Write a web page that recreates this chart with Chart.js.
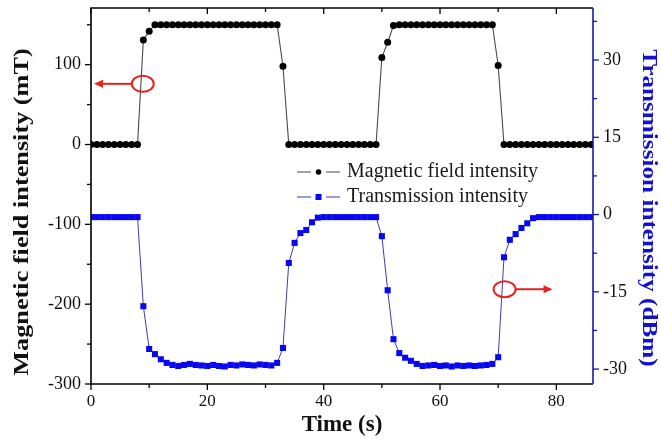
<!DOCTYPE html>
<html><head><meta charset="utf-8">
<script src="https://cdn.jsdelivr.net/npm/chart.js@4/dist/chart.umd.min.js"></script>
<style>html,body{margin:0;padding:0;background:#fff}#wrap{width:661px;height:440px}</style>
</head><body><div id="wrap"><canvas id="c" width="661" height="440"></canvas></div>
<script>
// ---- data ----
const timeS = [0,1,2,3,4,5,6,7,8,9,10,11,12,13,14,15,16,17,18,19,20,21,22,23,24,25,26,27,28,29,30,31,32,33,34,35,36,37,38,39,40,41,42,43,44,45,46,47,48,49,50,51,52,53,54,55,56,57,58,59,60,61,62,63,64,65,66,67,68,69,70,71,72,73,74,75,76,77,78,79,80,81,82,83,84,85,86];
const magneticField = [0,0,0,0,0,0,0,0,0,131,142,
  150,150,150,150,150,150,150,150,150,150,150,150,150,150,150,150,150,150,150,150,150,150,
  98,
  0,0,0,0,0,0,0,0,0,0,0,0,0,0,0,0,
  109,128,
  149,150,150,150,150,150,150,150,150,150,150,150,150,150,150,150,150,150,
  99,
  0,0,0,0,0,0,0,0,0,0,0,0,0,0,0,0];
const transmission = [-0.5,-0.5,-0.5,-0.5,-0.5,-0.5,-0.5,-0.5,-0.5,
  -17.8,-26.1,-27.1,-28.1,-28.8,-29.2,-29.4,
  -29.2,-29.0,-29.2,-29.3,-29.4,-29.2,-29.4,-29.5,-29.2,-29.3,-29.1,-29.2,-29.3,-29.1,-29.2,-29.3,
  -28.8,-25.9,-9.4,-5.5,-3.6,-3.0,-1.5,-0.6,
  -0.5,-0.5,-0.5,-0.5,-0.5,-0.5,-0.5,-0.5,-0.5,-0.5,
  -4.2,-14.7,-24.2,-26.9,-27.8,-28.4,-29.0,-29.4,
  -29.3,-29.2,-29.4,-29.3,-29.5,-29.3,-29.4,-29.3,-29.4,-29.3,-29.2,
  -29.0,-27.7,-8.3,-4.9,-3.8,-2.6,-1.7,-0.7,
  -0.5,-0.5,-0.5,-0.5,-0.5,-0.5,-0.5,-0.5,-0.5,-0.5];
const seriesNames = ['Magnetic field intensity','Transmission intensity'];
const xTickLabels = ['0','20','40','60','80'];
const leftTickLabels = ['-300','-200','-100','0','100'];
const rightTickLabels = ['-30','-15','0','15','30'];
const axisTitles = {x:'Time (s)', y:'Magnetic field intensity (mT)', y2:'Transmission intensity (dBm)'};

// ---- style ----
const serif = "'Liberation Serif','Times New Roman',serif";
const BLUE_AXIS = '#1a1aa8';
const BLUE_TITLE = '#1212d0';
const RED = '#e52420';

function pickLabel(list){ return v => { const s = String(Math.round(v*1000)/1000); return list.includes(s) ? s : ''; }; }

const framePlugin = {
  id:'frame',
  afterDatasetsDraw(chart){
    const {ctx, chartArea:a, scales} = chart;
    ctx.save();
    const drawTicks = (scale, side, color) => {
      ctx.strokeStyle = color; ctx.lineWidth = 1.3;
      scale.ticks.forEach(t => {
        const major = t.label !== '' && t.label !== undefined;
        const len = major ? 6 : 4;
        const p = scale.getPixelForValue(t.value);
        ctx.beginPath();
        if (side==='left'){ ctx.moveTo(a.left, p); ctx.lineTo(a.left-len, p); }
        if (side==='right'){ ctx.moveTo(a.right, p); ctx.lineTo(a.right+len, p); }
        if (side==='bottom'){ ctx.moveTo(p, a.bottom); ctx.lineTo(p, a.bottom+len); }
        if (side==='top'){ ctx.moveTo(p, a.top); ctx.lineTo(p, a.top+len); }
        ctx.stroke();
      });
    };
    drawTicks(scales.y,'left','#000');
    drawTicks(scales.x,'bottom','#000');
    drawTicks(scales.x,'top','#000');
    drawTicks(scales.y2,'right',BLUE_AXIS);
    ctx.lineWidth = 1.6; ctx.strokeStyle = '#000';
    ctx.beginPath();
    ctx.moveTo(a.right, a.top); ctx.lineTo(a.left, a.top); ctx.lineTo(a.left, a.bottom); ctx.lineTo(a.right, a.bottom);
    ctx.stroke();
    ctx.strokeStyle = BLUE_AXIS;
    ctx.beginPath(); ctx.moveTo(a.right, a.top); ctx.lineTo(a.right, a.bottom); ctx.stroke();

    // red circle + arrow annotations
    const arrow = (x1, y, x2) => {
      const dir = Math.sign(x2 - x1);
      ctx.strokeStyle = RED; ctx.fillStyle = RED; ctx.lineWidth = 2;
      ctx.beginPath(); ctx.moveTo(x1, y); ctx.lineTo(x2 - dir*7, y); ctx.stroke();
      ctx.beginPath(); ctx.moveTo(x2, y); ctx.lineTo(x2 - dir*9, y-4); ctx.lineTo(x2 - dir*9, y+4); ctx.closePath(); ctx.fill();
    };
    const ell = (x, y) => { ctx.strokeStyle = RED; ctx.lineWidth = 2; ctx.beginPath(); ctx.ellipse(x, y, 11, 8, 0, 0, Math.PI*2); ctx.stroke(); };
    const lx = scales.x.getPixelForValue(8.9), ly = scales.y.getPixelForValue(76);
    ell(lx, ly); arrow(lx-11, ly, a.left+3);
    const rx = scales.x.getPixelForValue(71.1), ry = scales.y2.getPixelForValue(-14.5);
    ell(rx, ry); arrow(rx+11, ry, rx+48);

    // legend
    const rowsY = [172, 197];
    chart.data.datasets.forEach((ds, i) => {
      const y = rowsY[i];
      ctx.strokeStyle = ds.borderColor; ctx.lineWidth = 1.2;
      ctx.beginPath(); ctx.moveTo(297, y); ctx.lineTo(311, y); ctx.moveTo(326, y); ctx.lineTo(340, y); ctx.stroke();
      ctx.fillStyle = ds.pointBackgroundColor;
      if (ds.pointStyle === 'circle'){ ctx.beginPath(); ctx.arc(318.5, y, 2.8, 0, Math.PI*2); ctx.fill(); }
      else { ctx.fillRect(315.5, y-3, 6, 6); }
      ctx.fillStyle = '#1a1a1a'; ctx.font = "20px " + serif; ctx.textBaseline = 'middle'; ctx.textAlign = 'left';
      ctx.fillText(ds.label, 347, y);
    });

    // vertical axis titles (drawn taller, like the reference)
    const vTitle = (text, cx, cy, rot, sx, color) => {
      ctx.save(); ctx.translate(cx, cy); ctx.rotate(rot); ctx.scale(sx, 1);
      ctx.font = 'bold 21px ' + serif; ctx.fillStyle = color; ctx.textAlign = 'center'; ctx.textBaseline = 'middle';
      ctx.fillText(text, 0, 0); ctx.restore();
    };
    vTitle(axisTitles.y, 23, 212, -Math.PI/2, 1.25, '#111');
    vTitle(axisTitles.y2, 648, 208, Math.PI/2, 1.2, BLUE_TITLE);
    ctx.restore();
  }
};

const pts = arr => timeS.map((t, i) => ({x: t, y: arr[i]}));
const noPadV = s => { s.paddingTop = 0; s.paddingBottom = 0; };

new Chart(document.getElementById('c'), {
  type: 'line',
  data: {
    datasets: [
      {label: seriesNames[0], data: pts(magneticField), yAxisID: 'y',
       borderColor: '#4a4a4a', borderWidth: 1.1, tension: 0,
       pointStyle: 'circle', pointRadius: 3.5, pointBackgroundColor: '#000', pointBorderColor: '#000', pointBorderWidth: 0},
      {label: seriesNames[1], data: pts(transmission), yAxisID: 'y2',
       borderColor: '#3e3eb0', borderWidth: 1, tension: 0,
       pointStyle: 'rect', pointRadius: 4.3, pointBackgroundColor: '#0808f0', pointBorderColor: '#0808f0', pointBorderWidth: 0}
    ]
  },
  options: {
    responsive: false, animation: false, devicePixelRatio: 1,
    layout: {padding: {top: 8, left: 0, right: 0, bottom: 0}},
    plugins: {legend: {display: false}, tooltip: {enabled: false}},
    scales: {
      x: {type: 'linear', position: 'bottom', min: 0, max: 86.3,
          afterFit(s){ s.height = 56; s.paddingLeft = 0; s.paddingRight = 0; },
          grid: {display: false, drawTicks: false}, border: {display: false},
          ticks: {stepSize: 10, autoSkip: false, includeBounds: false, maxRotation: 0, padding: 7, color: '#111',
                  font: {family: serif, size: 17}, callback: pickLabel(xTickLabels)},
          title: {display: true, text: axisTitles.x, color: '#111', font: {family: serif, size: 23, weight: 'bold'}, padding: {top: 0, bottom: 1}}},
      y: {type: 'linear', position: 'left', min: -300, max: 171,
          afterFit(s){ s.width = 91; noPadV(s); },
          grid: {display: false, drawTicks: false}, border: {display: false},
          ticks: {stepSize: 50, autoSkip: false, includeBounds: false, padding: 10, color: '#111',
                  font: {family: serif, size: 18}, callback: pickLabel(leftTickLabels)},
          title: {display: false}},
      y2: {type: 'linear', position: 'right', min: -32.9, max: 40.1,
          afterFit(s){ s.width = 68; noPadV(s); },
          grid: {display: false, drawTicks: false}, border: {display: false},
          ticks: {stepSize: 7.5, autoSkip: false, includeBounds: false, padding: 10, color: '#111',
                  font: {family: serif, size: 18}, callback: pickLabel(rightTickLabels)},
          title: {display: false}}
    }
  },
  plugins: [framePlugin]
});
</script>
</body></html>
